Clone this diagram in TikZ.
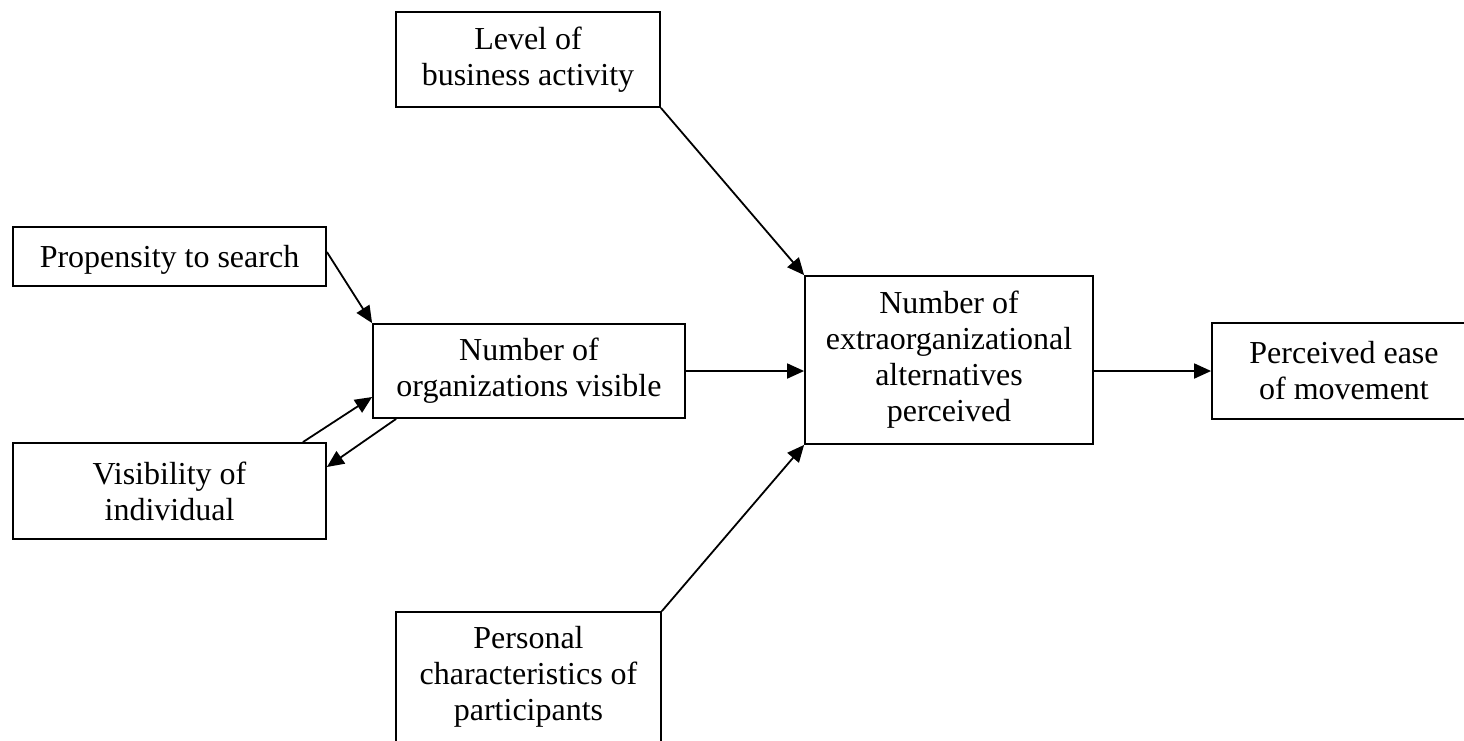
\documentclass[tikz,border=0pt]{standalone}
\usepackage{fontspec}
\setmainfont{Liberation Serif}
\usetikzlibrary{arrows.meta}
\begin{document}
\begin{tikzpicture}[x=1pt,y=-1pt,
  box/.style={draw, line width=1.8pt, inner sep=0pt, align=center,
    font=\fontsize{32}{36}\selectfont,
    execute at begin node={\rule{0pt}{28pt}}},
  link/.style={line width=1.8pt, -{Triangle[length=17pt,width=15pt]}}]
\clip (0,0) rectangle (1464,740);
\fill[white] (0,0) rectangle (1464,740);

% factor boxes
\node[box, minimum width=264pt, minimum height=95pt] (L) at (528,59.5)
  {Level of\\business activity};
\node[box, minimum width=313pt, minimum height=59pt] (P) at (169.5,256.5)
  {Propensity to search};
\node[box, minimum width=312pt, minimum height=94pt] (O) at (529,371)
  {Number of\\organizations visible};
\node[box, minimum width=313pt, minimum height=96pt] (V) at (169.5,491)
  {Visibility of\\individual};
\node[box, minimum width=288pt, minimum height=168pt] (E) at (949,360)
  {Number of\\extraorganizational\\alternatives\\perceived};
\node[box, minimum width=264pt, minimum height=96pt] (M) at (1344,371)
  {Perceived ease\\of movement};
\node[box, minimum width=265pt, minimum height=130pt] (C) at (528.5,677)
  {Personal\\characteristics of\\participants};

% influences
\draw[link] (L.south east) -- (E.north west);
\draw[link] ([yshift=4.5pt]P.east) -- (O.north west);
\draw[link] ([xshift=-24pt]V.north east) -- ([yshift=-26pt]O.west);
\draw[link] ([xshift=24pt]O.south west) -- ([yshift=24pt]V.east);
\draw[link] (O.east) -- (O.east -| E.west);
\draw[link] (C.north east) -- (E.south west);
\draw[link] (M.west -| E.east) -- (M.west);
\end{tikzpicture}
\end{document}
